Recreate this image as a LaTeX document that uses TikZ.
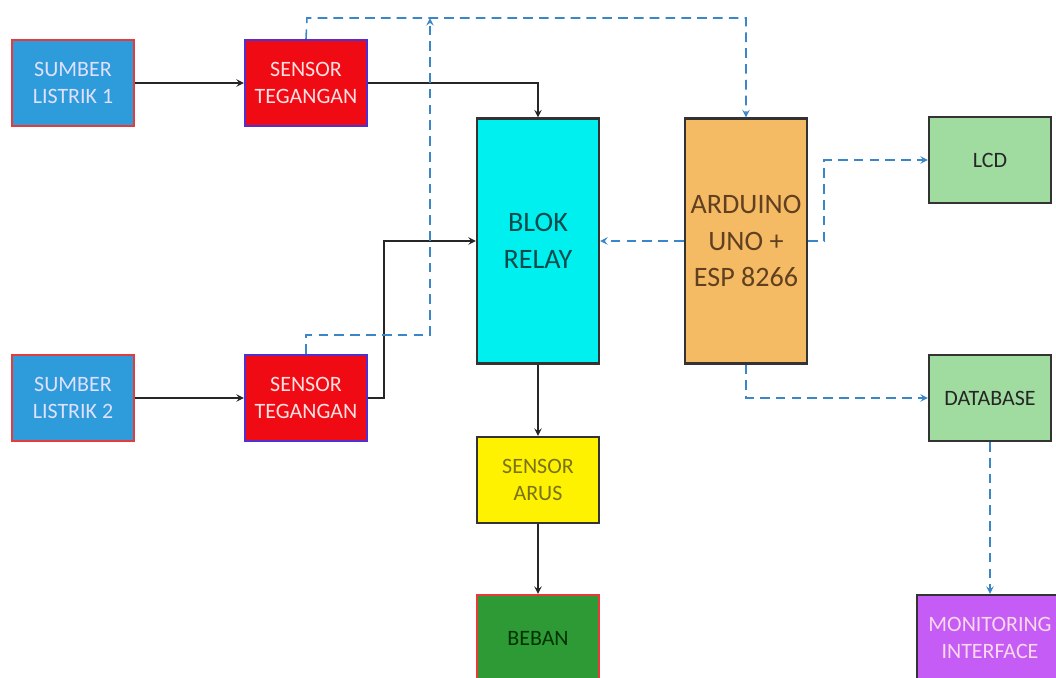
\documentclass[tikz,border=0pt]{standalone}
\usepackage{fontspec}
\setmainfont{Carlito}
\usepackage{xcolor}
\usepackage{tikz}

\definecolor{srcblue}{HTML}{2E9BDA}
\definecolor{tegred}{HTML}{F00A14}
\definecolor{tegedge}{HTML}{5030D0}
\definecolor{relaycyan}{HTML}{00F0F0}
\definecolor{ardorange}{HTML}{F5BB64}
\definecolor{outgreen}{HTML}{A0DCA0}
\definecolor{loadgreen}{HTML}{2E9A36}
\definecolor{monpurple}{HTML}{C45CF5}
\definecolor{sigblue}{HTML}{3A86C8}
\definecolor{edgered}{HTML}{E83A3A}

\begin{document}
\begin{tikzpicture}[x=0.02cm, y=-0.02cm,
  block/.style={rectangle, draw=black!80, line width=1.2pt, minimum width=2.44cm, minimum height=1.72cm, align=center, font=\fontsize{12.5}{15}\selectfont},
  tall/.style={block, minimum height=4.9cm, font=\fontsize{16}{21}\selectfont},
  arrow/.style={->, >=stealth, line width=0.9pt, black!85},
  sig/.style={->, >=stealth, line width=0.9pt, sigblue, dash pattern=on 5.5pt off 3.5pt}
]
\useasboundingbox (0,0) rectangle (1056,677);
\clip (0,0) rectangle (1056,677);

\node[block, fill=srcblue, draw=edgered, text=white!88!blue] (src1) at (73,83) {SUMBER\\LISTRIK 1};
\node[block, fill=tegred, draw=tegedge, text=white!88!red] (teg1) at (306,83) {SENSOR\\TEGANGAN};
\node[block, fill=srcblue, draw=edgered, text=white!88!blue] (src2) at (73,398) {SUMBER\\LISTRIK 2};
\node[block, fill=tegred, draw=tegedge, text=white!88!red] (teg2) at (306,398) {SENSOR\\TEGANGAN};
\node[tall, fill=relaycyan, text=teal!60!black] (relay) at (538,241) {BLOK\\RELAY};
\node[tall, fill=ardorange, text=brown!50!black] (ard) at (746,241) {ARDUINO\\UNO +\\ESP 8266};
\node[block, fill=outgreen, text=black!85] (lcd) at (990,160) {LCD};
\node[block, fill=outgreen, text=black!85] (db) at (990,398) {DATABASE};
\node[block, fill=yellow, text=olive!80!black] (arus) at (538,480) {SENSOR\\ARUS};
\node[block, fill=loadgreen, draw=edgered, text=green!20!black] (beban) at (538,638) {BEBAN};
\node[block, fill=monpurple, minimum width=2.92cm, text=white!85!magenta] (mon) at (990,638) {MONITORING\\INTERFACE};

\coordinate (top) at (307,18);
\coordinate (bus) at (430,18);

% daya
\draw[arrow] (src1) -- (teg1);
\draw[arrow] (teg1.east) -| (relay.north);
\draw[arrow] (src2) -- (teg2);
\draw[arrow] (teg2.east) -- ++(16,0) |- (relay.west);
\draw[arrow] (relay) -- (arus);
\draw[arrow] (arus) -- (beban);

% sinyal
\draw[sig] (teg1.north) -- (top) -| (ard.north);
\draw[sig] (teg2.north) -- ++(0,-19) -| (bus);
\draw[sig] (ard.west) -- (relay.east);
\draw[sig] (ard.east) -- ++(16,0) |- (lcd.west);
\draw[sig] (ard.south) |- (db.west);
\draw[sig] (db) -- (mon);

\end{tikzpicture}
\end{document}
